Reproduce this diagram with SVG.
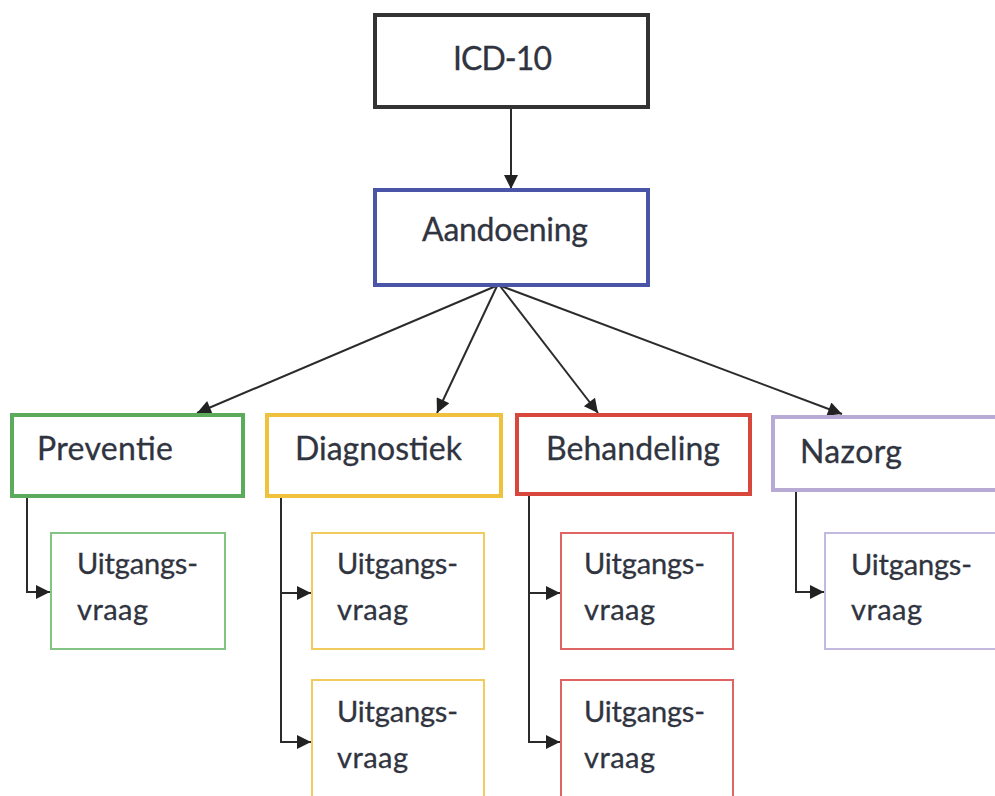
<svg xmlns="http://www.w3.org/2000/svg" width="995" height="796" viewBox="0 0 995 796">
  <style>
    text { font-family: Lato, "Open Sans", "Liberation Sans", sans-serif; fill: #30343f; stroke: #30343f; stroke-width: 0.3; }
    .lbl { font-size: 32px; }
    .sub { font-size: 29px; }
    .main { fill: #ffffff; stroke-width: 4; }
    .leaf { fill: #ffffff; stroke-width: 2; }
    .conn { fill: none; stroke: #2b2b2b; stroke-width: 2; }
  </style>
  <defs>
    <marker id="arrow" viewBox="0 0 10 10" refX="10" refY="5" markerUnits="userSpaceOnUse" markerWidth="16" markerHeight="14" orient="auto">
      <path d="M0,0 L10,5 L0,10 z" fill="#222222"/>
    </marker>
  </defs>
  <rect width="995" height="796" fill="#ffffff"/>

  <!-- connectors -->
  <g id="connectors">
    <path class="conn" d="M511,107 V189" marker-end="url(#arrow)"/>
    <path class="conn" d="M496,286 L197,413" marker-end="url(#arrow)"/>
    <path class="conn" d="M497,286 L437,413" marker-end="url(#arrow)"/>
    <path class="conn" d="M500,286 L598,413" marker-end="url(#arrow)"/>
    <path class="conn" d="M501,286 L842,414" marker-end="url(#arrow)"/>
    <path class="conn" d="M27,496 V592 H50" marker-end="url(#arrow)"/>
    <path class="conn" d="M281,496 V593 H311" marker-end="url(#arrow)"/>
    <path class="conn" d="M281,593 V742 H311" marker-end="url(#arrow)"/>
    <path class="conn" d="M529,494 V593 H560" marker-end="url(#arrow)"/>
    <path class="conn" d="M529,593 V742 H560" marker-end="url(#arrow)"/>
    <path class="conn" d="M796,490 V592 H824" marker-end="url(#arrow)"/>
  </g>

  <!-- top level -->
  <g id="icd10">
    <rect class="main" x="375" y="15" width="273" height="92" stroke="#333333"/>
    <text class="lbl" x="453" y="70" textLength="99">ICD-10</text>
  </g>
  <g id="aandoening">
    <rect class="main" x="375" y="190" width="273" height="95" stroke="#4a55a8"/>
    <text class="lbl" x="422" y="241" textLength="166">Aandoening</text>
  </g>

  <!-- categories -->
  <g id="preventie">
    <rect class="main" x="12" y="415" width="231" height="81" stroke="#5cab5c"/>
    <text class="lbl" x="37" y="460" textLength="136">Preventie</text>
  </g>
  <g id="diagnostiek">
    <rect class="main" x="267" y="415" width="234" height="81" stroke="#efc13c"/>
    <text class="lbl" x="295" y="460" textLength="167">Diagnostiek</text>
  </g>
  <g id="behandeling">
    <rect class="main" x="517" y="415" width="233" height="79" stroke="#d8473c"/>
    <text class="lbl" x="546" y="460" textLength="174">Behandeling</text>
  </g>
  <g id="nazorg">
    <rect class="main" x="773" y="417" width="240" height="73" stroke="#b7abd6"/>
    <text class="lbl" x="800" y="463" textLength="102">Nazorg</text>
  </g>

  <!-- questions -->
  <g id="preventie-vraag">
    <rect class="leaf" x="51" y="533" width="174" height="116" stroke="#82c482"/>
    <text class="sub" x="77" y="574" textLength="121">Uitgangs-</text>
    <text class="sub" x="77" y="620" textLength="71">vraag</text>
  </g>
  <g id="diagnostiek-vraag-1">
    <rect class="leaf" x="312" y="533" width="172" height="116" stroke="#f1cc5c"/>
    <text class="sub" x="337" y="574" textLength="121">Uitgangs-</text>
    <text class="sub" x="337" y="620" textLength="71">vraag</text>
  </g>
  <g id="diagnostiek-vraag-2">
    <rect class="leaf" x="312" y="680" width="172" height="140" stroke="#f1cc5c"/>
    <text class="sub" x="337" y="722" textLength="121">Uitgangs-</text>
    <text class="sub" x="337" y="768" textLength="71">vraag</text>
  </g>
  <g id="behandeling-vraag-1">
    <rect class="leaf" x="561" y="533" width="172" height="116" stroke="#e06464"/>
    <text class="sub" x="584" y="574" textLength="121">Uitgangs-</text>
    <text class="sub" x="584" y="620" textLength="71">vraag</text>
  </g>
  <g id="behandeling-vraag-2">
    <rect class="leaf" x="561" y="680" width="172" height="140" stroke="#e06464"/>
    <text class="sub" x="584" y="722" textLength="121">Uitgangs-</text>
    <text class="sub" x="584" y="768" textLength="71">vraag</text>
  </g>
  <g id="nazorg-vraag">
    <rect class="leaf" x="825" y="533" width="190" height="116" stroke="#c3b9de"/>
    <text class="sub" x="851" y="575" textLength="121">Uitgangs-</text>
    <text class="sub" x="851" y="620" textLength="71">vraag</text>
  </g>
</svg>
